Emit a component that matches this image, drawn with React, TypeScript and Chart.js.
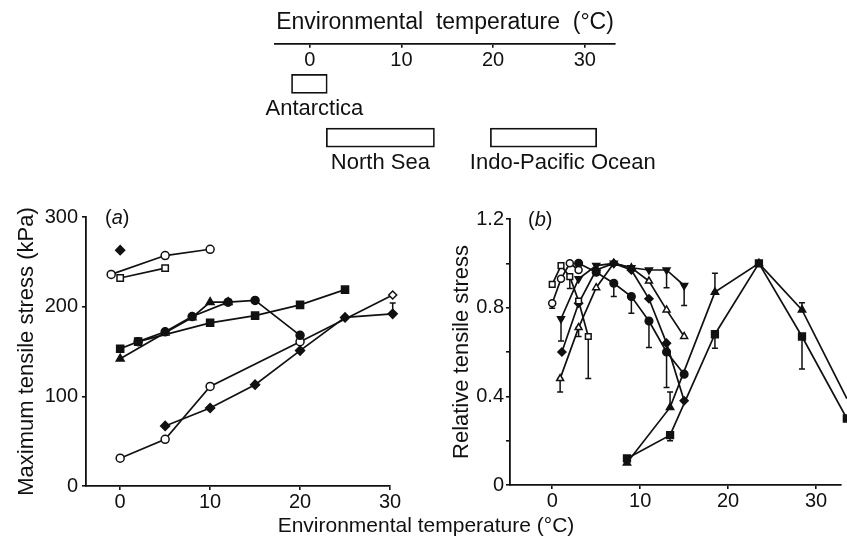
import React, { useEffect, useRef } from 'react';
import { Chart, registerables } from 'chart.js';
Chart.register(...registerables);

const FONT = '"Liberation Sans", Arial, Helvetica, sans-serif';
const INK = '#111';

// ---------- top strip: environmental temperature ranges ----------
const stripTicks = [0, 10, 20, 30];
const regionNames = ['Antarctica', 'North Sea', 'Indo-Pacific Ocean'];
const regionStart = [-2.0, 1.8, 19.7];
const regionEnd = [1.9, 13.6, 31.3];
const regionRow = [1.5, 3.5, 3.5];
const regionLabelX = [0.5, 7.7, 27.6];

// ---------- panel (a): maximum tensile stress (kPa) ----------
const aTicksX = [0, 10, 20, 30];
const aTicksY = [0, 100, 200, 300];
const aSingleDiamondX = [0];
const aSingleDiamondY = [263];
const aOpenCircleTopX = [-1, 5, 10];
const aOpenCircleTopY = [236, 257, 264];
const aOpenSquareX = [0, 5];
const aOpenSquareY = [232, 243];
const aTriangleX = [0, 5, 8, 10, 12];
const aTriangleY = [142, 171, 188, 205, 205];
const aFilledCircleX = [2, 5, 8, 12, 15, 20];
const aFilledCircleY = [161, 172, 189, 205, 207, 168];
const aFilledSquareX = [0, 2, 10, 15, 20, 25];
const aFilledSquareY = [153, 161, 182, 190, 202, 219];
const aOpenLowX = [0, 5, 10, 20, 30.3];
const aOpenLowY = [31, 52, 111, 161, 213];
const aOpenLowStyle = ['circle', 'circle', 'circle', 'circle', 'rectRot'];
const aFilledDiamondX = [5, 10, 15, 20, 25, 30.3];
const aFilledDiamondY = [67, 87, 113, 151, 188, 192];
const aErrX = [30.3];
const aErrLo = [192];
const aErrHi = [204];

// ---------- panel (b): relative tensile stress ----------
const bTicksX = [0, 10, 20, 30];
const bTicksY = [0, 0.2, 0.4, 0.6, 0.8, 1.0, 1.2];
const bTickLabelsY = ['0', '', '0.4', '', '0.8', '', '1.2'];
const bOpenSquareX = [0, 1, 2, 3, 4.1];
const bOpenSquareY = [0.905, 0.99, 0.94, 0.83, 0.67];
const bOpenCircleX = [0, 1, 2, 3];
const bOpenCircleY = [0.82, 0.93, 1.0, 0.97];
const bDownTriX = [1, 3, 5, 7, 9, 11, 13, 15];
const bDownTriY = [0.75, 0.93, 0.99, 1.0, 0.98, 0.97, 0.97, 0.9];
const bDiamondX = [1.1, 3, 5, 7, 9, 11, 13, 15];
const bDiamondY = [0.6, 0.82, 0.97, 1.0, 0.97, 0.84, 0.64, 0.38];
const bOpenTriX = [0.9, 3, 5, 7, 9, 11, 13, 15];
const bOpenTriY = [0.48, 0.71, 0.89, 1.0, 0.98, 0.92, 0.79, 0.67];
const bFilledCircleX = [3, 5, 7, 9, 11, 13, 15];
const bFilledCircleY = [1.0, 0.96, 0.91, 0.85, 0.74, 0.6, 0.5];
const bTriX = [8.5, 13.4, 18.5, 23.5, 28.4, 33.5];
const bTriY = [0.1, 0.35, 0.87, 1.0, 0.79, 0.39];
const bSquareX = [8.5, 13.4, 18.5, 23.5, 28.4, 33.5];
const bSquareY = [0.12, 0.225, 0.68, 1.0, 0.67, 0.3];
const bErrX = [0, 2, 1, 0.9, 3, 4.1, 7, 9, 11, 13, 13, 15, 13.4, 18.5, 28.4, 13.4, 18.5, 28.4];
const bErrLo = [0.797, 0.887, 0.65, 0.42, 0.67, 0.48, 0.85, 0.775, 0.62, 0.44, 0.89, 0.81, 0.346, 0.872, 0.79, 0.2, 0.617, 0.523];
const bErrHi = [0.822, 0.94, 0.75, 0.48, 0.71, 0.67, 0.91, 0.85, 0.74, 0.6, 0.97, 0.9, 0.42, 0.955, 0.822, 0.225, 0.68, 0.669];

function series(xs: number[], ys: number[], style: any, filled: boolean, radius = 4, extra: any = {}) {
  return {
    data: xs.map((x, i) => ({ x, y: ys[i] })),
    showLine: true,
    borderColor: INK,
    borderWidth: 1.7,
    pointStyle: style,
    pointRadius: radius,
    pointBorderWidth: 1.5,
    pointBorderColor: INK,
    pointBackgroundColor: filled ? INK : '#fff',
    backgroundColor: filled ? INK : '#fff',
    clip: false,
    ...extra,
  };
}

function errorBars(id: string, xs: number[], lo: number[], hi: number[]) {
  return {
    id,
    beforeDatasetsDraw(chart: any) {
      const { ctx, scales } = chart;
      ctx.save();
      ctx.strokeStyle = INK;
      ctx.lineWidth = 1.5;
      xs.forEach((v, i) => {
        const px = scales.x.getPixelForValue(v);
        const p1 = scales.y.getPixelForValue(lo[i]);
        const p2 = scales.y.getPixelForValue(hi[i]);
        ctx.beginPath();
        ctx.moveTo(px, p1);
        ctx.lineTo(px, p2);
        ctx.moveTo(px - 3, p1);
        ctx.lineTo(px + 3, p1);
        ctx.moveTo(px - 3, p2);
        ctx.lineTo(px + 3, p2);
        ctx.stroke();
      });
      ctx.restore();
    },
  };
}

const regionLabelPlugin = {
  id: 'regionLabels',
  afterDatasetsDraw(chart: any) {
    const meta = chart.getDatasetMeta(0);
    const { ctx } = chart;
    const xs = chart.scales.x;
    ctx.save();
    ctx.font = `22px ${FONT}`;
    ctx.fillStyle = INK;
    ctx.textAlign = 'center';
    ctx.textBaseline = 'alphabetic';
    meta.data.forEach((bar: any, i: number) => {
      const x = xs.getPixelForValue(regionLabelX[i]);
      const y = bar.y + bar.height / 2 + 22;
      ctx.fillText(regionNames[i], x, y);
    });
    ctx.restore();
  },
};

const tickFont = { family: FONT, size: 20 };
const titleFont = { family: FONT, size: 22, weight: 'normal' as const };

function fixedTicks(values: number[]) {
  return (s: any) => {
    s.ticks = values.map((v) => ({ value: v }));
  };
}

function axisCommon() {
  return {
    grid: { display: true, drawOnChartArea: false, drawTicks: true, tickLength: 4, color: INK, lineWidth: 1.6 },
    border: { display: true, color: INK, width: 1.8 },
  };
}

function stripConfig(): any {
  return {
    type: 'bar',
    data: {
      datasets: [
        {
          data: regionNames.map((_, i) => ({ x: [regionStart[i], regionEnd[i]], y: regionRow[i] })),
          backgroundColor: '#fff',
          borderColor: INK,
          borderWidth: 1.7,
          borderSkipped: false,
          barThickness: 19,
        },
      ],
    },
    options: {
      indexAxis: 'y',
      animation: false,
      responsive: false,
      events: [],
      layout: { padding: { left: 232, right: 232, top: 0, bottom: 2 } },
      plugins: {
        legend: { display: false },
        tooltip: { enabled: false },
        title: {
          display: true,
          text: 'Environmental  temperature  (°C)',
          color: INK,
          font: { family: FONT, size: 23, weight: 'normal' },
          padding: { top: 9, bottom: 7 },
        },
      },
      scales: {
        x: {
          type: 'linear',
          min: -3.8,
          max: 33.3,
          position: { y: 0 },
          afterBuildTicks: fixedTicks(stripTicks),
          grid: { display: true, drawOnChartArea: false, drawTicks: true, tickLength: 3, color: INK, lineWidth: 1.6 },
          border: { display: true, color: INK, width: 1.8 },
          ticks: { color: INK, font: tickFont, padding: 2, maxRotation: 0 },
        },
        y: { type: 'linear', min: 0, max: 5, reverse: true, display: false, offset: false },
      },
    },
    plugins: [regionLabelPlugin],
  };
}

function panelAConfig(): any {
  return {
    type: 'scatter',
    data: {
      datasets: [
        series(aSingleDiamondX, aSingleDiamondY, 'rectRot', true, 4.5),
        series(aOpenCircleTopX, aOpenCircleTopY, 'circle', false, 4),
        series(aOpenSquareX, aOpenSquareY, 'rect', false, 4.5),
        series(aTriangleX, aTriangleY, 'triangle', true, 4.5),
        series(aFilledCircleX, aFilledCircleY, 'circle', true, 4),
        series(aFilledSquareX, aFilledSquareY, 'rect', true, 5),
        series(aOpenLowX, aOpenLowY, aOpenLowStyle, false, 4),
        series(aFilledDiamondX, aFilledDiamondY, 'rectRot', true, 4.5),
      ],
    },
    options: {
      animation: false,
      responsive: false,
      events: [],
      layout: { padding: { left: 0, top: 22, right: 30, bottom: 0 } },
      plugins: { legend: { display: false }, tooltip: { enabled: false } },
      scales: {
        x: {
          type: 'linear',
          min: -3.8,
          max: 30,
          afterBuildTicks: fixedTicks(aTicksX),
          afterFit: (s: any) => {
            s.height = 29;
          },
          ...axisCommon(),
          ticks: { color: INK, font: tickFont, padding: 0, maxRotation: 0 },
        },
        y: {
          type: 'linear',
          min: 0,
          max: 300,
          afterBuildTicks: fixedTicks(aTicksY),
          afterFit: (s: any) => {
            s.width = 86;
          },
          ...axisCommon(),
          ticks: { color: INK, font: tickFont, padding: 4 },
          title: {
            display: true,
            text: 'Maximum tensile stress (kPa)',
            color: INK,
            font: titleFont,
            padding: { top: 14, bottom: 0 },
          },
        },
      },
    },
    plugins: [errorBars('errA', aErrX, aErrLo, aErrHi)],
  };
}

function panelBConfig(): any {
  return {
    type: 'scatter',
    data: {
      datasets: [
        series(bOpenSquareX, bOpenSquareY, 'rect', false, 4),
        series(bOpenCircleX, bOpenCircleY, 'circle', false, 3.5),
        series(bDownTriX, bDownTriY, 'triangle', true, 4, { pointRotation: 180 }),
        series(bDiamondX, bDiamondY, 'rectRot', true, 4),
        series(bOpenTriX, bOpenTriY, 'triangle', false, 4),
        series(bFilledCircleX, bFilledCircleY, 'circle', true, 3.8),
        series(bTriX, bTriY, 'triangle', true, 4.2),
        series(bSquareX, bSquareY, 'rect', true, 4.8),
      ],
    },
    options: {
      animation: false,
      responsive: false,
      events: [],
      layout: { padding: { left: 0, top: 24, right: 0, bottom: 0 } },
      plugins: { legend: { display: false }, tooltip: { enabled: false } },
      scales: {
        x: {
          type: 'linear',
          min: -4.8,
          max: 32.8,
          afterBuildTicks: fixedTicks(bTicksX),
          afterFit: (s: any) => {
            s.height = 30;
          },
          ...axisCommon(),
          ticks: { color: INK, font: tickFont, padding: 0, maxRotation: 0 },
        },
        y: {
          type: 'linear',
          min: 0,
          max: 1.2,
          afterBuildTicks: fixedTicks(bTicksY),
          afterFit: (s: any) => {
            s.width = 80;
          },
          ...axisCommon(),
          ticks: {
            color: INK,
            font: tickFont,
            padding: 2,
            callback: (_v: any, i: number) => bTickLabelsY[i],
          },
          title: {
            display: true,
            text: 'Relative tensile stress',
            color: INK,
            font: titleFont,
            padding: { top: 19, bottom: 0 },
          },
        },
      },
    },
    plugins: [errorBars('errB', bErrX, bErrLo, bErrHi)],
  };
}

export default function App() {
  const topRef = useRef<HTMLCanvasElement | null>(null);
  const aRef = useRef<HTMLCanvasElement | null>(null);
  const bRef = useRef<HTMLCanvasElement | null>(null);

  useEffect(() => {
    const charts = [
      new Chart(topRef.current as HTMLCanvasElement, stripConfig()),
      new Chart(aRef.current as HTMLCanvasElement, panelAConfig()),
      new Chart(bRef.current as HTMLCanvasElement, panelBConfig()),
    ];
    return () => charts.forEach((c) => c.destroy());
  }, []);

  return (
    <div
      style={{
        position: 'absolute',
        left: 0,
        top: 0,
        width: 847,
        height: 545,
        background: '#fff',
        fontFamily: FONT,
        color: INK,
        overflow: 'hidden',
      }}
    >
      <canvas ref={topRef} width={804} height={180} style={{ position: 'absolute', left: 43, top: 0 }} />
      <canvas ref={aRef} width={420} height={320} style={{ position: 'absolute', left: 0, top: 195 }} />
      <canvas ref={bRef} width={417} height={320} style={{ position: 'absolute', left: 430, top: 195 }} />
      <div style={{ position: 'absolute', left: 105, top: 206, fontSize: 20, lineHeight: '22px' }}>
        (<i>a</i>)
      </div>
      <div style={{ position: 'absolute', left: 528, top: 208, fontSize: 20, lineHeight: '22px' }}>
        (<i>b</i>)
      </div>
      <div
        style={{
          position: 'absolute',
          left: 0,
          width: 852,
          top: 512,
          textAlign: 'center',
          fontSize: 21,
          lineHeight: '26px',
        }}
      >
        Environmental temperature (°C)
      </div>
    </div>
  );
}
